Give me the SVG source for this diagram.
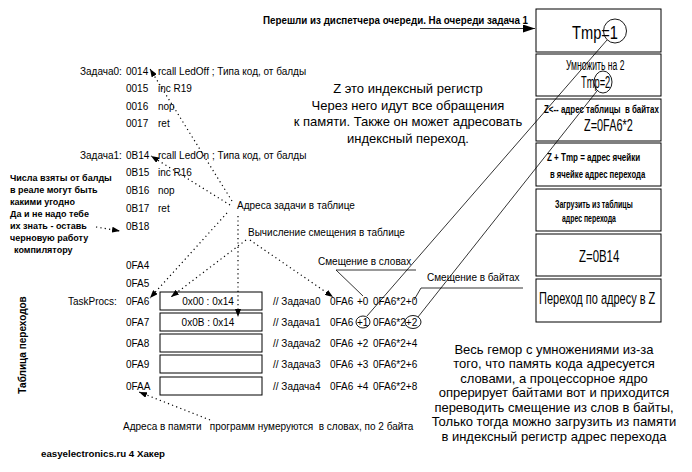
<svg xmlns="http://www.w3.org/2000/svg" width="692" height="472" viewBox="0 0 692 472">
<style>
text{font-family:"Liberation Sans",Arial,sans-serif;font-size:10px;fill:#000}
.b{font-weight:bold}
.s9{font-size:9px}
.s10{font-size:10.5px}
.m{text-anchor:middle}
.big{font-size:13px}
.f15{font-size:15px}
.f16{font-size:16px}
.f17{font-size:17px}
.f19{font-size:19px}
.box{fill:#fff;stroke:#000;stroke-width:1}
.dot{fill:none;stroke:#000;stroke-width:1.2;stroke-dasharray:1.2 3.2}
.ln{fill:none;stroke:#000;stroke-width:0.8}
.circ{fill:none;stroke:#000;stroke-width:0.9}
</style>
<defs>
<marker id="ah" viewBox="0 0 8 6" refX="8" refY="3" markerWidth="8" markerHeight="6" markerUnits="userSpaceOnUse" orient="auto">
<path d="M0,0 L8,3 L0,6 z" fill="#000"/>
</marker>
<marker id="ahb" viewBox="0 0 12 8" refX="12" refY="4" markerWidth="12" markerHeight="8" markerUnits="userSpaceOnUse" orient="auto">
<path d="M0,0 L12,4 L0,8 z" fill="#000"/>
</marker>
</defs>
<rect width="692" height="472" fill="#fff"/>

<g id="header">
<text class="b" x="263" y="24" textLength="265" lengthAdjust="spacingAndGlyphs">Перешли из диспетчера очереди. На очереди задача 1</text>
</g>

<g id="code">
<text x="80" y="75">Задача0:</text><text x="126" y="75">0014</text><text x="158" y="75">rcall LedOff ; Типа код, от балды</text>
<text x="126" y="92">0015</text><text x="158" y="92">inc R19</text>
<text x="126" y="110">0016</text><text x="158" y="110">nop</text>
<text x="126" y="127">0017</text><text x="158" y="127">ret</text>
<text x="80" y="159">Задача1:</text><text x="126" y="159">0B14</text><text x="158" y="159">rcall LedOn ; Типа код, от балды</text>
<text x="126" y="176">0B15</text><text x="158" y="176">inc R16</text>
<text x="126" y="194">0B16</text><text x="158" y="194">nop</text>
<text x="126" y="212">0B17</text><text x="158" y="212">ret</text>
<text x="126" y="230">0B18</text>
<text x="126" y="269">0FA4</text>
<text x="126" y="287">0FA5</text>
</g>

<g id="note-numbers">
<text class="b s9" x="10" y="180.5">Числа взяты от балды</text>
<text class="b s9" x="10" y="192.5">в реале могут быть</text>
<text class="b s9" x="10" y="204.5">какими угодно</text>
<text class="b s9" x="10" y="216.5">Да и не надо тебе</text>
<text class="b s9" x="10" y="228.5">их знать - оставь</text>
<text class="b s9" x="10" y="240.5">черновую работу</text>
<text class="b s9" x="14" y="252.5">компилятору</text>
</g>

<g id="note-z">
<text class="big m" x="408" y="92.5">Z это индексный регистр</text>
<text class="big m" x="408" y="109.5">Через него идут все обращения</text>
<text class="big m" x="408" y="126">к памяти. Также он может адресовать</text>
<text class="big m" x="408" y="142.5">индексный переход.</text>
</g>

<g id="table">
<text class="b" transform="translate(26,345) rotate(-90)" text-anchor="middle">Таблица переходов</text>
<text x="68" y="305">TaskProcs:</text>
<text x="126" y="305">0FA6</text>
<text x="126" y="326">0FA7</text>
<text x="126" y="347">0FA8</text>
<text x="126" y="368">0FA9</text>
<text x="126" y="390">0FAA</text>
<rect class="box" x="160" y="292" width="102" height="18"/>
<rect class="box" x="160" y="313" width="102" height="18"/>
<rect class="box" x="160" y="334" width="102" height="18"/>
<rect class="box" x="160" y="355" width="102" height="18"/>
<rect class="box" x="160" y="377" width="102" height="18"/>
<text class="m" x="208" y="305">0x00 : 0x14</text>
<text class="m" x="208" y="326">0x0B : 0x14</text>
</g>

<g id="comments">
<text x="273" y="305">// Задача0</text><text x="330" y="305">0FA6</text><text x="357" y="305">+0</text><text x="373" y="305">0FA6*2+0</text>
<text x="273" y="326">// Задача1</text><text x="330" y="326">0FA6</text><text x="357" y="326">+1</text><text x="373" y="326">0FA6*2+2</text>
<text x="273" y="347">// Задача2</text><text x="330" y="347">0FA6</text><text x="357" y="347">+2</text><text x="373" y="347">0FA6*2+4</text>
<text x="273" y="368">// Задача3</text><text x="330" y="368">0FA6</text><text x="357" y="368">+3</text><text x="373" y="368">0FA6*2+6</text>
<text x="273" y="390">// Задача4</text><text x="330" y="390">0FA6</text><text x="357" y="390">+4</text><text x="373" y="390">0FA6*2+8</text>
<ellipse class="circ" cx="363" cy="322" rx="7" ry="6"/>
<ellipse class="circ" cx="413" cy="322" rx="8" ry="6.5"/>
</g>

<g id="labels">
<text x="237" y="209">Адреса задачи в таблице</text>
<text x="248" y="236">Вычисление смещения в таблице</text>
<text x="318" y="265">Смещение в словах</text>
<text x="427" y="281">Смещение в байтах</text>
<text x="123" y="430" xml:space="preserve">Адреса в памяти   программ нумеруются  в словах, по 2 байта</text>
<text class="b s9" x="41" y="457" textLength="124" lengthAdjust="spacingAndGlyphs">easyelectronics.ru 4 Хакер</text>
</g>

<g id="note-bytes">
<text class="big m" x="554" y="353.5">Весь гемор с умножениями из-за</text>
<text class="big m" x="554" y="368">того, что память кода адресуется</text>
<text class="big m" x="554" y="382.5">словами, а процессорное ядро</text>
<text class="big m" x="554" y="397">опрерирует байтами вот и приходится</text>
<text class="big m" x="554" y="411.5">переводить смещение из слов в байты,</text>
<text class="big m" x="554" y="426">Только тогда можно загрузить из памяти</text>
<text class="big m" x="554" y="440.5">в индексный регистр адрес перехода</text>
</g>

<g id="step1"><rect class="box" x="536" y="9" width="125" height="43"/>
<text class="f19" transform="translate(572,39) scale(0.7,1)" textLength="65.7" lengthAdjust="spacingAndGlyphs">Tmp=1</text>
<ellipse class="circ" cx="615" cy="31" rx="11.5" ry="12"/></g>
<g id="step2"><rect class="box" x="536" y="54" width="125" height="42"/>
<text class="f15" transform="translate(566,70) scale(0.65,1)" textLength="90" lengthAdjust="spacingAndGlyphs">Умножить на 2</text>
<text class="f16" transform="translate(581,88) scale(0.65,1)" textLength="45" lengthAdjust="spacingAndGlyphs">Tmp=2</text>
<ellipse class="circ" cx="603" cy="82" rx="9" ry="11"/></g>
<g id="step3"><rect class="box" x="536" y="99" width="125" height="42"/>
<text class="b s10" transform="translate(544,113) scale(0.7,1)" textLength="164" lengthAdjust="spacingAndGlyphs" xml:space="preserve">Z&lt;-- адрес таблицы  в байтах</text>
<text class="f17" transform="translate(584,131) scale(0.65,1)" textLength="75" lengthAdjust="spacingAndGlyphs">Z=0FA6*2</text></g>
<g id="step4"><rect class="box" x="536" y="143" width="125" height="43"/>
<text class="b s10" transform="translate(547,161) scale(0.7,1)" textLength="133" lengthAdjust="spacingAndGlyphs">Z + Tmp = адрес ячейки</text>
<text class="b s10" transform="translate(550,178) scale(0.7,1)" textLength="136" lengthAdjust="spacingAndGlyphs">в ячейке адрес перехода</text></g>
<g id="step5"><rect class="box" x="536" y="189" width="125" height="42"/>
<text class="b s10" transform="translate(555,208) scale(0.7,1)" textLength="111" lengthAdjust="spacingAndGlyphs">Загрузить из таблицы</text>
<text class="b s10" transform="translate(562,222) scale(0.7,1)" textLength="77" lengthAdjust="spacingAndGlyphs">адрес перехода</text></g>
<g id="step6"><rect class="box" x="536" y="234" width="125" height="42"/>
<text class="f16" transform="translate(579,262) scale(0.65,1)" textLength="62" lengthAdjust="spacingAndGlyphs">Z=0B14</text></g>
<g id="step7"><rect class="box" x="536" y="279" width="125" height="43"/>
<text class="f17" transform="translate(539,304) scale(0.65,1)" textLength="179" lengthAdjust="spacingAndGlyphs">Переход по адресу в Z</text></g>

<g id="connectors">
<line class="ln" x1="420" y1="28.5" x2="535" y2="28.5" stroke-width="1" marker-end="url(#ahb)"/>
<line class="dot" x1="232" y1="201" x2="150" y2="69" marker-end="url(#ah)"/>
<line class="dot" x1="230" y1="205" x2="151" y2="156" marker-end="url(#ah)"/>
<line class="dot" x1="227" y1="213" x2="150" y2="298" marker-end="url(#ah)"/>
<line class="dot" x1="238" y1="216" x2="238" y2="317" marker-end="url(#ah)"/>
<line class="dot" x1="246" y1="240" x2="171" y2="297" marker-end="url(#ah)"/>
<line class="dot" x1="250" y1="240" x2="333" y2="297" marker-end="url(#ah)"/>
<line class="dot" x1="96" y1="227" x2="120" y2="231" marker-end="url(#ah)"/>
<line class="dot" x1="210" y1="420" x2="139" y2="392" marker-end="url(#ah)"/>
<polyline class="ln" points="416,270 336,270 363,296"/>
<polyline class="ln" points="523,288 421,288 414,300"/>
<line class="ln" x1="367" y1="316" x2="607" y2="40"/>
<line class="ln" x1="418" y1="317" x2="597" y2="91"/>
</g>
</svg>
